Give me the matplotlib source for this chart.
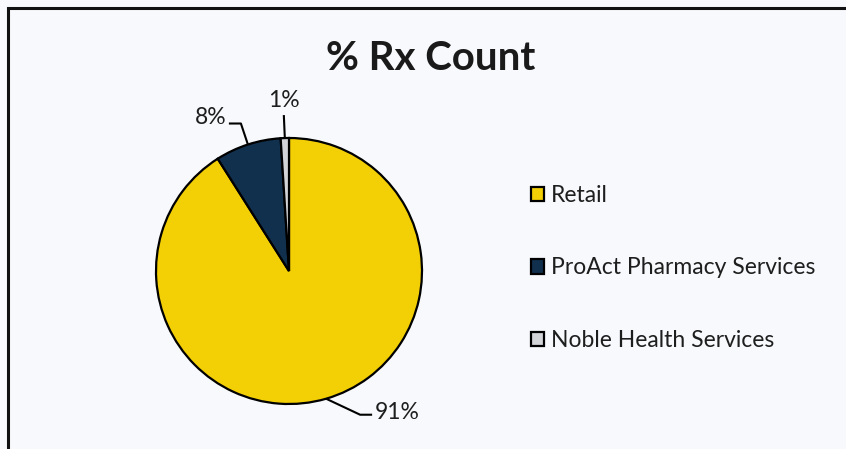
import matplotlib.pyplot as plt
import numpy as np

plt.rcParams['font.family'] = ['Lato', 'DejaVu Sans']

labels = ['Retail', 'ProAct Pharmacy Services', 'Noble Health Services']
values = [91, 8, 1]
pct_text = ['91%', '8%', '1%']
colors = ['#f3cf05', '#10304e', '#d2d4d8']

W, H = 846, 449

fig = plt.figure(figsize=(W / 100, H / 100), dpi=100)
fig.patch.set_facecolor('#f7f9fc')
ax = fig.add_axes([0, 0, 1, 1])

cx, cy, r = 289, H - 271, 133
wedges, _ = ax.pie(values, colors=colors, startangle=90, counterclock=False,
                   center=(cx, cy), radius=r,
                   wedgeprops=dict(edgecolor='black', linewidth=1.6))
ax.set_xlim(0, W)
ax.set_ylim(0, H)
ax.set_aspect('equal')
ax.axis('off')

# leader lines: (elbow offset from edge point, text offset from elbow end)
leaders = {
    '91%': [(34, -16), (12, 0)],
    '8%': [(-7, 21), (-12, 0)],
    '1%': [(-1, 23), (0, 0)],
}
for w, t in zip(wedges, pct_text):
    mid = np.deg2rad((w.theta1 + w.theta2) / 2)
    px, py = cx + r * np.cos(mid), cy + r * np.sin(mid)
    (dx1, dy1), (dx2, dy2) = leaders[t]
    xs = [px, px + dx1, px + dx1 + dx2]
    ys = [py, py + dy1, py + dy1 + dy2]
    ax.plot(xs, ys, color='black', lw=1.5, solid_capstyle='butt')
    if t == '91%':
        ax.text(xs[-1] + 3, ys[-1] + 2, t, ha='left', va='center', fontsize=16.5, color='#1e1e1e')
    elif t == '8%':
        ax.text(xs[-1] - 2, ys[-1] + 6, t, ha='right', va='center', fontsize=16.5, color='#1e1e1e')
    else:
        ax.text(xs[-1], ys[-1] + 4, t, ha='center', va='bottom', fontsize=16.5, color='#1e1e1e')

ax.text(431, H - 59, '% Rx Count', ha='center', va='center', fontsize=29,
        fontweight='bold', color='#1a1a1a')

ax.legend(wedges, labels, loc='center left', bbox_to_anchor=(531 / W, 1 - 268 / H),
          frameon=False, fontsize=16.5, labelspacing=2.25, handlelength=0.58,
          handleheight=0.58, handletextpad=0.3, borderpad=0, borderaxespad=0,
          labelcolor='#1e1e1e')

# outer border of the chart area (cut off at right and bottom)
ax.plot([8, 8, W], [0, H - 8, H - 8], color='#111111', lw=2.2, solid_joinstyle='miter')

fig.savefig('out.png', dpi=100, facecolor=fig.get_facecolor())
